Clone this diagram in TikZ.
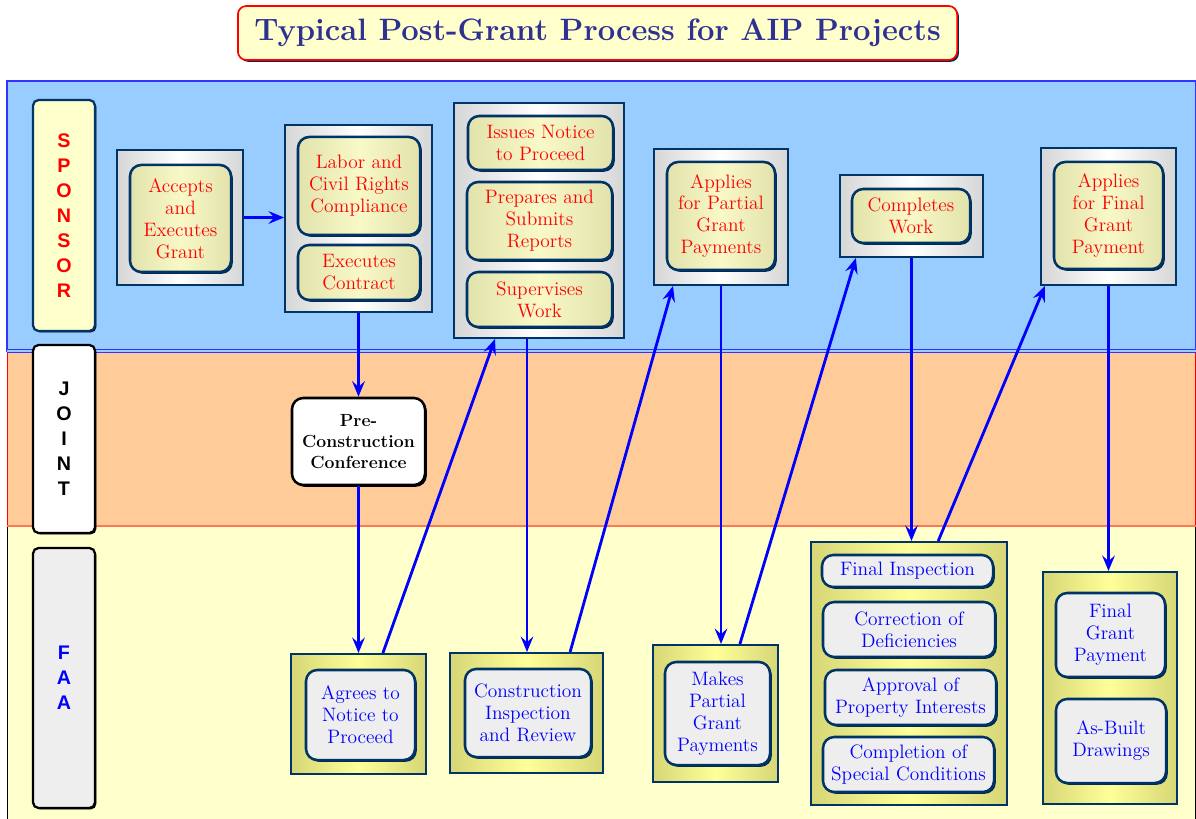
\documentclass[tikz,border=0pt]{standalone}
\usepackage{fontspec}
\newfontfamily\lanefont{Liberation Sans}
\usetikzlibrary{positioning,shadows,arrows.meta}

\definecolor{sponsorlane}{HTML}{99CCFF}
\definecolor{jointlane}{HTML}{FFCC99}
\definecolor{faalane}{HTML}{FFFFCC}
\definecolor{boxnavy}{HTML}{003366}
\definecolor{framegray}{HTML}{D6D6D6}
\definecolor{inneryellow}{HTML}{E2E2AC}
\definecolor{innerlight}{HTML}{F9F9C8}
\definecolor{faaframe}{HTML}{D6D676}
\definecolor{faalight}{HTML}{FFFF99}
\definecolor{faainner}{HTML}{EEEEEE}
\definecolor{titleblue}{HTML}{2E3192}
\definecolor{salmon}{HTML}{FF7755}
\definecolor{laneblue}{HTML}{3333FF}

\newcommand\procfont{\fontsize{13.8}{15.6}\selectfont}

\begin{document}
\begin{tikzpicture}[
    x=0.025cm, y=-0.025cm,
    boxshadow/.style={drop shadow={shadow xshift=1.3pt, shadow yshift=-1.3pt, fill=boxnavy!80!black, opacity=1}},
    titlebox/.style={rectangle, rounded corners=6pt, draw=red, line width=1.2pt, fill=faalane,
        text=titleblue, font=\bfseries\fontsize{22}{26}\selectfont,
        minimum width=17.975cm, minimum height=1.35cm, boxshadow},
    lanelabel/.style={rectangle, rounded corners=4pt, draw=black, line width=1.6pt,
        minimum width=1.55cm, align=center, font=\lanefont\bfseries\fontsize{14}{17.7}\selectfont,
        drop shadow={shadow xshift=1pt, shadow yshift=-1pt, fill=black, opacity=1}},
    sframe/.style={rectangle, draw=boxnavy, line width=1.4pt,
        left color=framegray, right color=framegray, middle color=white},
    sbox/.style={rectangle, rounded corners=8pt, draw=boxnavy, line width=1.8pt, inner sep=2pt,
        left color=inneryellow, right color=inneryellow, middle color=innerlight,
        text=red, align=center, font=\procfont, boxshadow},
    fframe/.style={rectangle, draw=boxnavy, line width=1.4pt,
        left color=faaframe, right color=faaframe, middle color=faalight},
    fbox/.style={rectangle, rounded corners=8pt, draw=boxnavy, line width=1.8pt, inner sep=2pt,
        fill=faainner, text=blue, align=center, font=\procfont, boxshadow},
    jbox/.style={rectangle, rounded corners=8pt, draw=black, line width=1.8pt, inner sep=2pt,
        fill=white, align=center, font=\bfseries\fontsize{12.5}{15.2}\selectfont,
        drop shadow={shadow xshift=1.3pt, shadow yshift=-1.3pt, fill=black, opacity=1}},
    flow/.style={-{Stealth[length=11pt, width=9pt, inset=4pt]}, draw=blue, line width=2pt}
]
    \useasboundingbox (0,0) rectangle (1196,819);

    % Lanes
    \draw[laneblue, line width=0.9pt, fill=sponsorlane] (7,81) rectangle (1195.5,351);
    \draw[red, line width=0.6pt, fill=jointlane] (7,351) rectangle (1195.5,526);
    \draw[black, line width=0.6pt, fill=faalane] (7,526) rectangle (1195.5,830);
    \draw[laneblue, double=sponsorlane, double distance=1.2pt, line width=0.6pt] (7,351) -- (1195.5,351);
    \draw[salmon, line width=1.8pt] (7,526) -- (1195.5,526);

    % Title
    \node[titlebox] (title) at (597.5,33) {Typical Post-Grant Process for AIP Projects};

    % Lane labels
    \node[lanelabel, draw=boxnavy, fill=faalane, text=red, minimum height=5.775cm] (sponsor) at (64,215.5) {S\\P\\O\\N\\S\\O\\R};
    \node[lanelabel, fill=white, minimum height=4.7cm] (joint) at (64,439) {J\\O\\I\\N\\T};
    \node[lanelabel, fill=faainner, text=blue, minimum height=6.5cm] (faa) at (64,678) {F\\A\\A};

    % Sponsor steps
    \node[sframe, minimum width=3.15cm, minimum height=3.375cm] (accframe) at (180,217.5) {};
    \node[sbox, minimum width=2.525cm, minimum height=2.675cm] (accept) at (180.5,218.5) {Accepts\\and\\Executes\\Grant};

    \node[sframe, minimum width=3.675cm, minimum height=4.675cm] (labframe) at (358.5,218.5) {};
    \node[sbox, minimum width=3.05cm, minimum height=2.45cm] (labor) at (359,186) {Labor and\\Civil Rights\\Compliance};
    \node[sbox, minimum width=3.05cm, minimum height=1.375cm] (contract) at (359,272.5) {Executes\\Contract};

    \node[sframe, minimum width=4.25cm, minimum height=5.875cm] (issframe) at (539,220.5) {};
    \node[sbox, minimum width=3.625cm, minimum height=1.35cm] (notice) at (540.5,143) {Issues Notice\\to Proceed};
    \node[sbox, minimum width=3.625cm, minimum height=1.95cm] (reports) at (539.5,221) {Prepares and\\Submits\\Reports};
    \node[sbox, minimum width=3.625cm, minimum height=1.375cm] (supervise) at (539.5,299.5) {Supervises\\Work};

    \node[sframe, minimum width=3.35cm, minimum height=3.4cm] (appframe) at (721,217) {};
    \node[sbox, minimum width=2.7cm, minimum height=2.7cm] (applypart) at (721,216) {Applies\\for Partial\\Grant\\Payments};

    \node[sframe, minimum width=3.575cm, minimum height=2.05cm] (cmpframe) at (911.5,216) {};
    \node[sbox, minimum width=2.95cm, minimum height=1.35cm] (complete) at (911,216) {Completes\\Work};

    \node[sframe, minimum width=3.375cm, minimum height=3.425cm] (apfframe) at (1108.5,216.5) {};
    \node[sbox, minimum width=2.725cm, minimum height=2.675cm] (applyfinal) at (1108.5,215.5) {Applies\\for Final\\Grant\\Payment};

    % Joint step
    \node[jbox, minimum width=3.325cm, minimum height=2.175cm] (pre) at (358.5,441.5) {Pre-\\Construction\\Conference};

    % FAA steps
    \node[fframe, minimum width=3.375cm, minimum height=3cm] (agrframe) at (358.5,714) {};
    \node[fbox, minimum width=2.725cm, minimum height=2.25cm] (agree) at (360.5,715) {Agrees to\\Notice to\\Proceed};

    \node[fframe, minimum width=3.825cm, minimum height=3cm] (conframe) at (526.5,713) {};
    \node[fbox, minimum width=3.15cm, minimum height=2.2cm] (inspect) at (528,713) {Construction\\Inspection\\and Review};

    \node[fframe, minimum width=3.125cm, minimum height=3.425cm] (makframe) at (715.5,713.5) {};
    \node[fbox, minimum width=2.625cm, minimum height=2.575cm] (partial) at (717.5,713.5) {Makes\\Partial\\Grant\\Payments};

    \node[fframe, minimum width=4.9cm, minimum height=6.575cm] (finframe) at (909,673.5) {};
    \node[fbox, minimum width=4.275cm, minimum height=0.8cm] (final) at (907.5,571) {Final Inspection};
    \node[fbox, minimum width=4.3cm, minimum height=1.375cm] (deficit) at (909,629.5) {Correction of\\Deficiencies};
    \node[fbox, minimum width=4.275cm, minimum height=1.375cm] (property) at (910.5,697.5) {Approval of\\Property Interests};
    \node[fbox, minimum width=4.275cm, minimum height=1.375cm] (special) at (908.5,764.5) {Completion of\\Special Conditions};

    \node[fframe, minimum width=3.35cm, minimum height=5.8cm] (fgpframe) at (1110,688) {};
    \node[fbox, minimum width=2.725cm, minimum height=2.1cm] (payment) at (1110.5,635) {Final\\Grant\\Payment};
    \node[fbox, minimum width=2.75cm, minimum height=2.1cm] (asbuilt) at (1111,741) {As-Built\\Drawings};

    % Flow
    \coordinate (issout) at ([xshift=-0.3cm]issframe.south);
    \draw[flow] (accframe.east) -- (accframe.east -| labframe.west);
    \draw[flow] (labframe.south) -- (pre.north);
    \draw[flow] (pre.south) -- (pre.south |- agrframe.north);
    \draw[flow] ([xshift=0.61cm]agrframe.north) -- ([xshift=-1.1cm]issframe.south);
    \draw[flow] (issout) -- (issout |- conframe.north);
    \draw[flow] ([xshift=1.09cm]conframe.north) -- ([xshift=-1.2cm]appframe.south);
    \draw[flow] (appframe.south) -- (appframe.south |- makframe.north);
    \draw[flow] ([xshift=0.61cm]makframe.north) -- ([xshift=-1.39cm]cmpframe.south);
    \draw[flow] (cmpframe.south) -- (cmpframe.south |- finframe.north);
    \draw[flow] ([xshift=0.73cm]finframe.north) -- ([xshift=-1.59cm]apfframe.south);
    \draw[flow] (apfframe.south) -- (apfframe.south |- fgpframe.north);
\end{tikzpicture}
\end{document}
